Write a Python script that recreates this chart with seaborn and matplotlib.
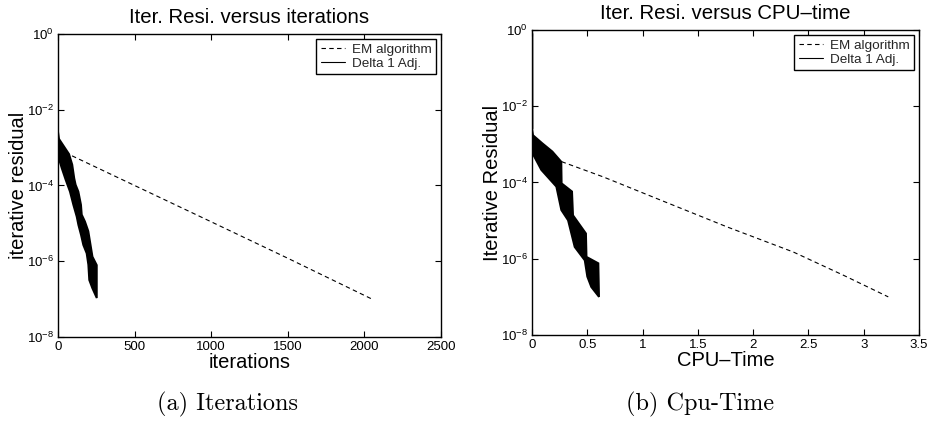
import numpy as np
import matplotlib
matplotlib.use("Agg")
import matplotlib.pyplot as plt
from matplotlib.lines import Line2D
import seaborn as sns
import pandas as pd

# ---------------- data ----------------
em_iter_x = [0, 500, 1000, 1500, 2050]
em_iter_y = [9.1e-4, 1.0e-4, 1.1e-5, 1.2e-6, 1.0e-7]

delta_iter_up_x = [0, 6.5, 72, 93, 106, 115, 133, 150, 155, 176, 198, 209, 225, 253]
delta_iter_up_y = [2.63e-3, 1.70e-3, 6.76e-4, 3.55e-4, 1.55e-4, 1.05e-4, 6.9e-5,
                   3.1e-5, 1.7e-5, 1.12e-5, 6.2e-6, 3.3e-6, 1.32e-6, 7.9e-7]
delta_iter_lo_x = [0, 2, 24, 50, 78, 100, 122, 133, 150, 165, 187, 198, 204, 224, 253]
delta_iter_lo_y = [6.3e-4, 5.75e-4, 2.9e-4, 1.41e-4, 6.9e-5, 3.1e-5, 1.51e-5, 9.1e-6,
                   5.0e-6, 2.7e-6, 1.62e-6, 8.1e-7, 3.2e-7, 1.95e-7, 1.07e-7]

em_cpu_x = [0, 0.27, 0.645, 1.158, 1.761, 2.364, 2.816, 3.222]
em_cpu_y = [6.3e-4, 3.5e-4, 1.4e-4, 3.5e-5, 6.9e-6, 1.5e-6, 3.7e-7, 1.0e-7]

delta_cpu_start_x = [0.004, 0.005]
delta_cpu_start_y = [0.8, 2.6e-3]
delta_cpu_up_x = [0.0, 0.009, 0.093, 0.184, 0.265, 0.268, 0.362, 0.371, 0.488, 0.493, 0.600]
delta_cpu_up_y = [2.63e-3, 1.74e-3, 1.07e-3, 6.5e-4, 3.5e-4, 9.5e-5, 5.8e-5, 1.38e-5,
                  4.6e-6, 1.12e-6, 7.6e-7]
delta_cpu_lo_x = [0.002, 0.084, 0.22, 0.265, 0.326, 0.386, 0.477, 0.50, 0.536, 0.606]
delta_cpu_lo_y = [6.0e-4, 2.14e-4, 7.8e-5, 1.9e-5, 1.02e-5, 2.04e-6, 9.1e-7, 3.4e-7,
                  1.82e-7, 1.0e-7]

iter_xticks = [0, 500, 1000, 1500, 2000, 2500]
iter_xticklabels = ["0", "500", "1000", "1500", "2000", "2500"]
cpu_xticks = [0, 0.5, 1, 1.5, 2, 2.5, 3, 3.5]
cpu_xticklabels = ["0", "0.5", "1", "1.5", "2", "2.5", "3", "3.5"]
yticks = [1e0, 1e-2, 1e-4, 1e-6, 1e-8]

legend_labels = ["EM algorithm", "Delta 1 Adj."]

# ---------------- style ----------------
sns.set_theme(style="ticks")
plt.rcParams["font.family"] = ["Liberation Sans", "DejaVu Sans"]
plt.rcParams["mathtext.fontset"] = "custom"
plt.rcParams["mathtext.rm"] = "Liberation Sans"
plt.rcParams["mathtext.it"] = "Liberation Sans:italic"
plt.rcParams["mathtext.bf"] = "Liberation Sans:bold"
plt.rcParams["axes.edgecolor"] = "black"
plt.rcParams["axes.linewidth"] = 1.0

fig = plt.figure(figsize=(9.28, 4.23), dpi=100)
axL = fig.add_axes([58/928, 1-337/423, (441-58)/928, (337-34)/423])
axR = fig.add_axes([532/928, 1-335/423, (919-532)/928, (335-30)/423])

def style_axes(ax, xticks, xlabels, xmax):
    ax.set_yscale("log")
    ax.set_ylim(1e-8, 1e0)
    ax.set_xlim(0, xmax)
    ax.set_yticks(yticks)
    ax.yaxis.set_minor_locator(matplotlib.ticker.NullLocator())
    ax.set_xticks(xticks)
    ax.set_xticklabels(xlabels)
    ax.tick_params(axis="both", which="major", direction="in", length=4,
                   width=0.8, top=True, right=True, labelsize=9.5,
                   colors="black", pad=3)
    for s in ax.spines.values():
        s.set_color("black")
        s.set_linewidth(1.0)
    ax.set_facecolor("white")

def draw(ax, em_x, em_y, up_x, up_y, lo_x, lo_y):
    df = pd.DataFrame({"x": em_x, "y": em_y})
    sns.lineplot(data=df, x="x", y="y", ax=ax, color="black", lw=0.8,
                 linestyle=(0, (4, 3)), sort=False, estimator=None)
    px = np.concatenate([np.asarray(up_x), np.asarray(lo_x)[::-1]])
    py = np.concatenate([np.asarray(up_y), np.asarray(lo_y)[::-1]])
    ax.fill(px, py, color="black", lw=1.4, edgecolor="black", zorder=3)

draw(axL, em_iter_x, em_iter_y, delta_iter_up_x, delta_iter_up_y,
     delta_iter_lo_x, delta_iter_lo_y)
draw(axR, em_cpu_x, em_cpu_y, delta_cpu_up_x, delta_cpu_up_y,
     delta_cpu_lo_x, delta_cpu_lo_y)
axR.plot(delta_cpu_start_x, delta_cpu_start_y, color="black", lw=1.2, zorder=3)

style_axes(axL, iter_xticks, iter_xticklabels, 2500)
style_axes(axR, cpu_xticks, cpu_xticklabels, 3.5)

axL.set_title("Iter. Resi. versus iterations", fontsize=14.7, pad=8, color="black")
axR.set_title("Iter. Resi. versus CPU\u2013time", fontsize=14.7, pad=8, color="black")
axL.set_xlabel("iterations", fontsize=14.5, labelpad=0, color="black")
axL.set_ylabel("iterative residual", fontsize=14.5, labelpad=-1, color="black")
axR.set_xlabel("CPU\u2013Time", fontsize=14.5, labelpad=0, color="black")
axR.set_ylabel("Iterative Residual", fontsize=14.5, labelpad=-1, color="black")

handles = [Line2D([0], [0], color="black", lw=0.8, linestyle=(0, (4, 3))),
           Line2D([0], [0], color="black", lw=0.8)]
for ax in (axL, axR):
    leg = ax.legend(handles, legend_labels, loc="upper right", fontsize=9.7,
                    frameon=True, fancybox=False, edgecolor="black",
                    framealpha=1, borderaxespad=0.35, handlelength=1.8,
                    handletextpad=0.5, borderpad=0.35, labelspacing=0.1)
    leg.get_frame().set_linewidth(1.0)

fig.text(228/928, 1-404/423, "(a) Iterations", ha="center", va="center",
         family="cmr10", fontsize=17.5, color="black")
fig.text(700/928, 1-404/423, "(b) Cpu-Time", ha="center", va="center",
         family="cmr10", fontsize=17.5, color="black")

fig.savefig("out.png", dpi=100, facecolor="white")
